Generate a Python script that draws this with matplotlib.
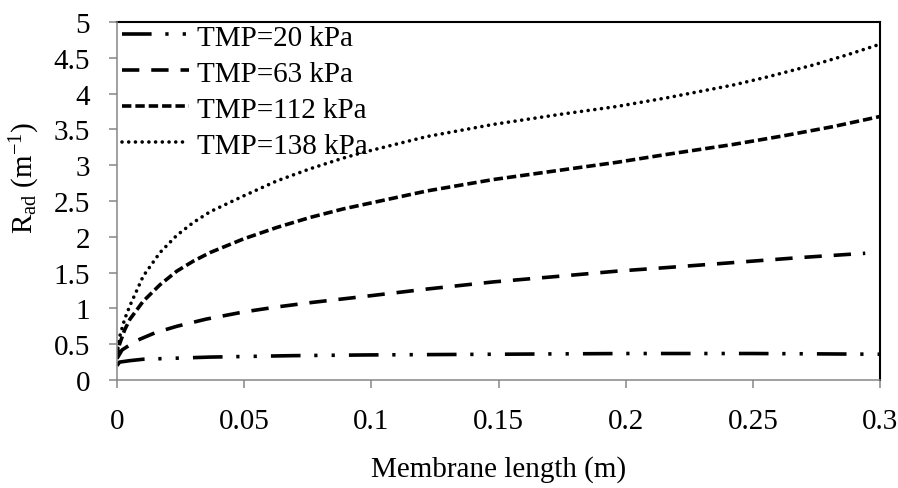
import matplotlib
matplotlib.use("Agg")
import matplotlib.pyplot as plt

plt.rcParams["font.family"] = ["Liberation Serif", "DejaVu Serif"]
plt.rcParams["mathtext.fontset"] = "custom"
plt.rcParams["mathtext.rm"] = "Liberation Serif"
plt.rcParams["mathtext.it"] = "Liberation Serif:italic"
plt.rcParams["mathtext.default"] = "regular"

# Adsorption resistance along the membrane for four transmembrane pressures
x_20 = [0, 0.001, 0.005, 0.0103, 0.0366, 0.069, 0.098, 0.15, 0.2, 0.25, 0.3]
r_20 = [0.20, 0.25, 0.27, 0.29, 0.32, 0.34, 0.35, 0.36, 0.37, 0.37, 0.36]

x_63 = [0, 0.002, 0.0077, 0.015, 0.0235, 0.035, 0.0497, 0.0628, 0.0759,
        0.098, 0.1218, 0.148, 0.1742, 0.1965, 0.216, 0.2423, 0.2686, 0.2942]
r_63 = [0.30, 0.42, 0.55, 0.66, 0.75, 0.85, 0.95, 1.02, 1.08,
        1.17, 1.27, 1.37, 1.45, 1.52, 1.57, 1.64, 1.71, 1.77]

x_112 = [0, 0.001, 0.003, 0.0051, 0.0103, 0.0169, 0.0235, 0.030, 0.0366,
         0.0497, 0.0628, 0.0759, 0.089, 0.0982, 0.1218, 0.148, 0.1742,
         0.1965, 0.216, 0.2423, 0.262, 0.2817, 0.3]
r_112 = [0.30, 0.50, 0.70, 0.85, 1.10, 1.33, 1.52, 1.66, 1.78,
         1.97, 2.13, 2.27, 2.39, 2.46, 2.64, 2.80, 2.93,
         3.04, 3.15, 3.29, 3.41, 3.54, 3.68]

x_138 = [0, 0.001, 0.003, 0.0051, 0.0103, 0.0169, 0.0235, 0.030, 0.0366,
         0.0497, 0.0628, 0.0759, 0.089, 0.0969, 0.1218, 0.148, 0.1742,
         0.1965, 0.216, 0.2423, 0.2554, 0.2738, 0.287, 0.3]
r_138 = [0.35, 0.60, 0.85, 1.04, 1.45, 1.78, 2.02, 2.20, 2.35,
         2.57, 2.78, 2.95, 3.10, 3.18, 3.40, 3.57, 3.71,
         3.82, 3.94, 4.12, 4.23, 4.40, 4.54, 4.69]

labels = ["TMP=20 kPa", "TMP=63 kPa", "TMP=112 kPa", "TMP=138 kPa"]
x_ticks = [0, 0.05, 0.1, 0.15, 0.2, 0.25, 0.3]
x_ticklabels = ["0", "0.05", "0.1", "0.15", "0.2", "0.25", "0.3"]
y_ticks = [0, 0.5, 1, 1.5, 2, 2.5, 3, 3.5, 4, 4.5, 5]
y_ticklabels = ["0", "0.5", "1", "1.5", "2", "2.5", "3", "3.5", "4", "4.5", "5"]

FS = 21
GRAY = "#868686"

fig = plt.figure(figsize=(8.98, 4.89), dpi=100)
ax = fig.add_axes([117 / 898, 1 - 381 / 489, 763 / 898, 358 / 489])

lw = 2.6
ax.plot(x_20, r_20, color="black", lw=lw, dash_capstyle="butt",
        linestyle=(0, (8.2, 3.8, 0.9, 3.9, 0.9, 3.9)), label=labels[0])
ax.plot(x_63, r_63, color="black", lw=lw, dash_capstyle="butt",
        linestyle=(0, (4.8, 3.3)), label=labels[1])
ax.plot(x_112, r_112, color="black", lw=lw, dash_capstyle="butt",
        linestyle=(0, (2.6, 1.1)), label=labels[2])
ax.plot(x_138, r_138, color="black", lw=2.6, dash_capstyle="round",
        linestyle=(0, (0.01, 1.85)), label=labels[3])

ax.set_xlim(0, 0.3)
ax.set_ylim(0, 5)
ax.set_xticks(x_ticks)
ax.set_xticklabels(x_ticklabels)
ax.set_yticks(y_ticks)
ax.set_yticklabels(y_ticklabels)

for side in ("left", "bottom"):
    ax.spines[side].set_color(GRAY)
    ax.spines[side].set_linewidth(1.1)
    ax.spines[side].set_zorder(3)
for side in ("top", "right"):
    ax.spines[side].set_color("black")
    ax.spines[side].set_linewidth(1.5)

ax.tick_params(axis="x", direction="out", length=5.8, width=1.1, color=GRAY,
               labelsize=FS, pad=14.5)
ax.tick_params(axis="y", direction="out", length=5.8, width=1.1, color=GRAY,
               labelsize=FS, pad=13.5)

ax.set_xlabel("Membrane length (m)", fontsize=FS)
ax.xaxis.set_label_coords(0.5, -0.21)
ax.set_ylabel("R$_{ad}$ (m$^{-1}$)", fontsize=FS, va="center")
ax.yaxis.set_label_coords(-0.1206, 0.567)

ax.legend(loc="upper left", bbox_to_anchor=(0.006, 0.994), frameon=False,
          fontsize=FS, handlelength=2.3, handletextpad=0.3,
          labelspacing=0.33, borderpad=0, borderaxespad=0)

fig.savefig("out.png", dpi=100)
